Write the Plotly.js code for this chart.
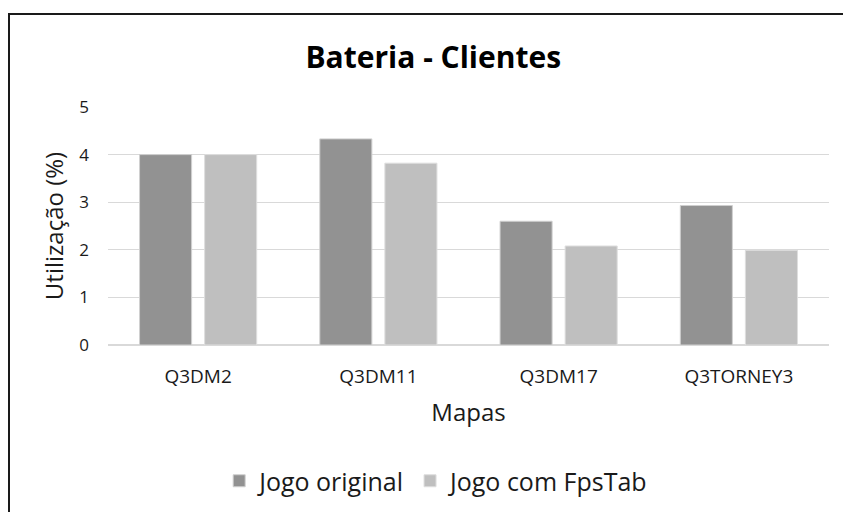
<!DOCTYPE html>
<html>
<head>
<meta charset="utf-8">
<script src="https://cdn.plot.ly/plotly-3.0.1.min.js"></script>
<style>
  html, body { margin: 0; padding: 0; background: #ffffff; }
  #wrap { position: relative; width: 843px; height: 512px; overflow: hidden; }
  #chart { width: 843px; height: 512px; }
  #frame { position: absolute; left: 8px; top: 13px; width: 900px; height: 600px;
           border-left: 2px solid #1a1a1a; border-top: 2px solid #1a1a1a; pointer-events: none; }
</style>
</head>
<body>
<div id="wrap">
  <div id="chart"></div>
  <div id="frame"></div>
</div>
<script>
const categories = ["Q3DM2", "Q3DM11", "Q3DM17", "Q3TORNEY3"];
const seriesNames = ["Jogo original", "Jogo com FpsTab"];
const original = [4.0, 4.33, 2.6, 2.93];
const fpsTab = [4.0, 3.82, 2.08, 1.99];
const yTicks = [0, 1, 2, 3, 4, 5];

const fontFam = "Open Sans, Liberation Sans, sans-serif";

const traces = [
  { type: "bar", name: seriesNames[0], x: categories, y: original,
    marker: { color: "#929292", line: { color: "#d0d0d0", width: 1 } } },
  { type: "bar", name: seriesNames[1], x: categories, y: fpsTab,
    marker: { color: "#bfbfbf", line: { color: "#dedede", width: 1 } } }
];

const layout = {
  width: 843, height: 512,
  paper_bgcolor: "#ffffff", plot_bgcolor: "#ffffff",
  margin: { l: 108, r: 14, t: 107, b: 167 },
  barmode: "group", bargap: 0.278, bargroupgap: 0.2,
  font: { family: fontFam, color: "#202020" },
  title: { text: "<b>Bateria - Clientes</b>", font: { size: 30, color: "#000000", family: fontFam },
           x: 0.514, xref: "container", xanchor: "center", y: 1 - 57/512, yref: "container", yanchor: "middle" },
  xaxis: {
    type: "category", showgrid: false, zeroline: false, showline: false, ticks: "",
    tickfont: { size: 19, color: "#1a1a1a" }, ticklabelstandoff: 18,
    title: { text: "Mapas", font: { size: 24, color: "#1a1a1a" }, standoff: 16 }
  },
  yaxis: {
    range: [0, 5], tickvals: yTicks, showgrid: true, gridcolor: "#d9d9d9", gridwidth: 1.3,
    zeroline: true, zerolinecolor: "#d9d9d9", zerolinewidth: 1.3, showline: false, ticks: "",
    tickfont: { size: 17, color: "#1a1a1a" }, ticklabelstandoff: 18,
    title: { text: "Utilização (%)", font: { size: 24, color: "#1a1a1a" }, standoff: 8 }
  },
  legend: { orientation: "h", x: 0.518, xref: "container", xanchor: "center",
            y: 1 - 481/512, yref: "container", yanchor: "middle",
            font: { size: 25, color: "#1a1a1a" }, itemwidth: 30, traceorder: "normal" },
  showlegend: true
};

Plotly.newPlot("chart", traces, layout, { displayModeBar: false, staticPlot: true });
</script>
</body>
</html>
